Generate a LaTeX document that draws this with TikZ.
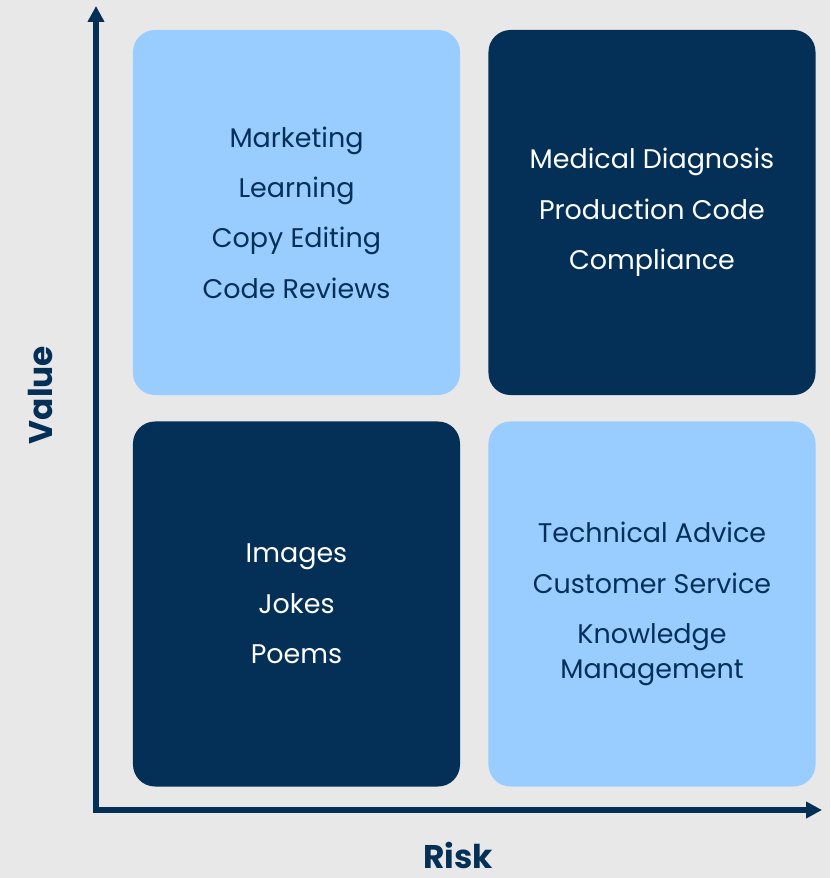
\documentclass[tikz,border=0pt]{standalone}
\usepackage{fontspec}
\setmainfont{Poppins}
\usetikzlibrary{arrows.meta, positioning}
\definecolor{navy}{RGB}{4, 48, 88}
\definecolor{skyblue}{RGB}{153, 204, 255}
\definecolor{bggray}{RGB}{232, 232, 232}

\begin{document}
\begin{tikzpicture}[x=0.03cm, y=-0.03cm,
    quad/.style={rounded corners=0.66cm, minimum width=9.81cm, minimum height=10.95cm,
      align=center, inner sep=0pt, font=\fontsize{23}{30}\selectfont},
    lightquad/.style={quad, fill=skyblue, text=navy},
    darkquad/.style={quad, fill=navy, text=white},
    axis/.style={navy, line width=0.16cm, -{Triangle[length=0.48cm, width=0.48cm]}},
    axislabel/.style={text=navy, font=\fontsize{28}{34}\selectfont\bfseries}]
  % Background
  \fill[bggray] (0,0) rectangle (830,878);
  \useasboundingbox (0,0) rectangle (830,878);

  % Quadrants
  \node[lightquad] (hvlr) at (296.5, 212.5) {Marketing\\[13pt]Learning\\[13pt]Copy Editing\\[13pt]Code Reviews};
  \node[darkquad, right=0.84cm of hvlr] (hvhr) {Medical Diagnosis\\[13pt]Production Code\\[13pt]Compliance};
  \node[darkquad, below=0.78cm of hvlr] (lvlr) {Images\\[13pt]Jokes\\[13pt]Poems};
  \node[lightquad, below=0.78cm of hvhr] (lvhr) {Technical Advice\\[13pt]Customer Service\\[13pt]Knowledge\\Management};

  % Axes
  \coordinate (origin) at (96, 810);
  \coordinate (ytip) at (96, 6);
  \coordinate (xtip) at (822, 810);
  \draw[axis] ([yshift=-0.08cm]origin) -- (ytip);
  \draw[axis] ([xshift=-0.08cm]origin) -- (xtip);

  \node[axislabel, rotate=90] (value) at (40, 395) {Value};
  \node[axislabel] (risk) at (458, 855) {Risk};
\end{tikzpicture}
\end{document}
